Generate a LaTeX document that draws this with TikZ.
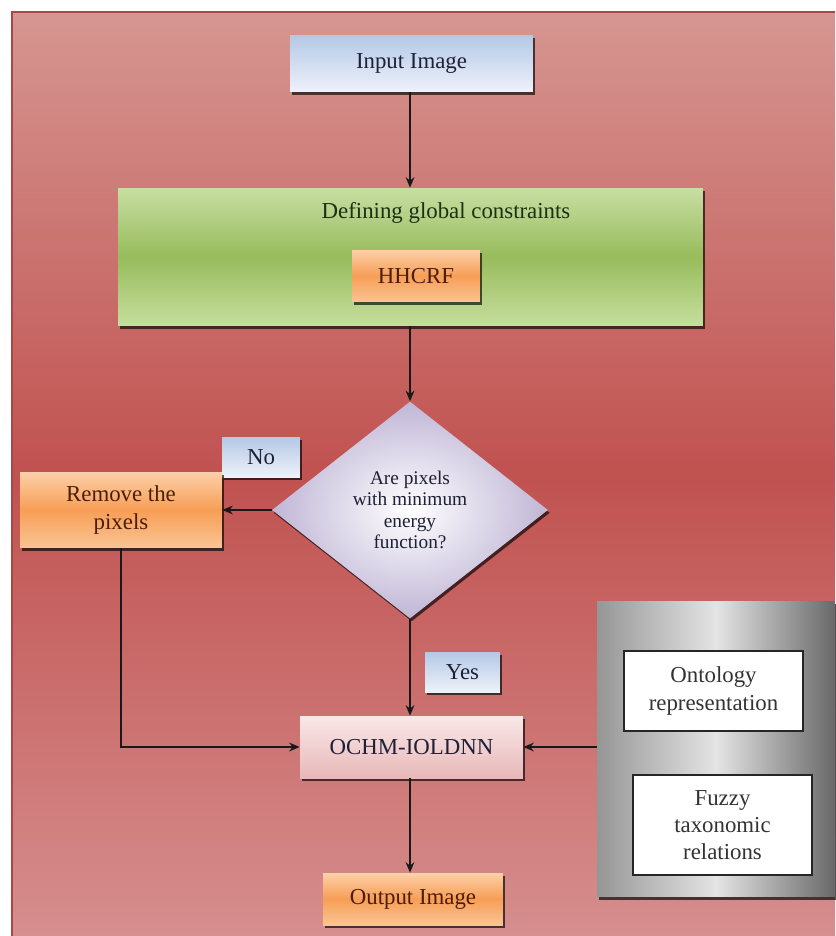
\documentclass[tikz,border=0pt]{standalone}
\usepackage{fontspec}
\setmainfont{Liberation Serif}
\usetikzlibrary{shapes.geometric,arrows.meta,shadows}
\definecolor{bgtop}{RGB}{214,150,145}
\definecolor{bgmid}{RGB}{192,82,80}
\definecolor{bgbot}{RGB}{214,142,142}
\definecolor{bgline}{RGB}{170,70,70}
\definecolor{bluetop}{RGB}{180,200,230}
\definecolor{bluebot}{RGB}{238,242,250}
\definecolor{grtop}{RGB}{200,222,162}
\definecolor{grmid}{RGB}{152,188,92}
\definecolor{grbot}{RGB}{198,222,158}
\definecolor{ortop}{RGB}{252,208,168}
\definecolor{ormid}{RGB}{247,158,86}
\definecolor{orbot}{RGB}{250,196,148}
\definecolor{lav}{RGB}{192,182,214}
\definecolor{pktop}{RGB}{250,232,232}
\definecolor{pkbot}{RGB}{232,184,184}
\definecolor{gyl}{RGB}{150,150,150}
\definecolor{gym}{RGB}{228,228,228}
\definecolor{gyr}{RGB}{105,105,105}
\definecolor{txtblue}{RGB}{30,32,55}
\definecolor{txtgreen}{RGB}{28,48,20}
\definecolor{txtbrown}{RGB}{75,30,10}
\tikzset{
  x=0.02cm, y=-0.02cm,
  mainfont/.style={font=\fontsize{13}{15.5}\selectfont},
  shad/.style={drop shadow={shadow xshift=1pt,shadow yshift=-1.6pt,fill=black,opacity=0.65}},
  basebox/.style={rectangle, inner sep=2pt, align=center, mainfont, shad},
  bluebox/.style={basebox, top color=bluetop, bottom color=bluebot, text=txtblue},
  greenbox/.style={basebox, top color=grtop, bottom color=grbot, middle color=grmid},
  orangebox/.style={basebox, top color=ortop, bottom color=orbot, middle color=ormid, text=txtbrown},
  pinkbox/.style={basebox, top color=pktop, bottom color=pkbot, text=txtblue},
  graybox/.style={rectangle, left color=gyl, right color=gyr, middle color=gym, shad},
  whitebox/.style={rectangle, fill=white, draw=black!85, line width=0.8pt, align=center, mainfont, text=black!80,
    drop shadow={shadow xshift=0.8pt,shadow yshift=-0.8pt,fill=black,opacity=0.5}},
  decision/.style={diamond, inner sep=0pt, aspect=1.27, inner color=white, outer color=lav,
    align=center, font=\fontsize{11}{12.2}\selectfont, text=txtblue, shad},
  arr/.style={draw=black!90, line width=0.8pt, -{Stealth[length=6pt,width=5pt]}},
}
\begin{document}
\begin{tikzpicture}
\useasboundingbox (0,0) rectangle (835,936);
\fill[white] (0,0) rectangle (835,936);
\shade[top color=bgtop, bottom color=bgbot, middle color=bgmid] (12,12) rectangle (835,936);
\draw[bgline, line width=0.8pt] (12,936) -- (12,12) -- (835,12);

\node[bluebox, minimum width=4.86cm, minimum height=1.14cm] (inp) at (411.5,63.5) {Input Image};

\node[greenbox, minimum width=11.7cm, minimum height=2.76cm] (grn) at (410.5,257) {};
\node[mainfont, text=txtgreen] (def) at (446,213) {Defining global constraints};
\node[orangebox, minimum width=2.56cm, minimum height=1.04cm] (hh) at (416,276) {HHCRF};

\node[decision, minimum width=5.52cm, minimum height=4.34cm] (dia) at (410,510)
  {Are pixels\\with minimum\\energy\\function?};

\node[bluebox, minimum width=1.56cm, minimum height=0.8cm] (no) at (261,457) {No};
\node[orangebox, minimum width=4.04cm, minimum height=1.52cm] (rem) at (121,510) {Remove the\\pixels};

\node[bluebox, minimum width=1.5cm, minimum height=0.8cm] (yes) at (462.5,672) {Yes};
\node[pinkbox, minimum width=4.46cm, minimum height=1.24cm] (ochm) at (411.5,747) {OCHM-IOLDNN};

\node[graybox, minimum width=4.76cm, minimum height=5.92cm] (gray) at (716,749) {};
\node[whitebox, minimum width=3.58cm, minimum height=1.6cm] (ont) at (713.5,691) {Ontology\\representation};
\node[whitebox, minimum width=3.58cm, minimum height=2.0cm] (fuz) at (722.5,825) {Fuzzy\\taxonomic\\relations};

\node[orangebox, minimum width=3.6cm, minimum height=1.04cm] (out) at (413,899) {Output Image};

\draw[arr] (inp.south -| dia.north) -- (grn.north -| dia.north);
\draw[arr] (grn.south -| dia.north) -- (dia.north);
\draw[arr] (dia.west) -- (rem.east |- dia.west);
\draw[arr] (dia.south) -- (ochm.north -| dia.south);
\draw[arr] (rem.south) |- (ochm.west);
\draw[arr] (ochm.east -| gray.west) -- (ochm.east);
\draw[arr] (ochm.south -| dia.south) -- (out.north -| dia.south);
\end{tikzpicture}
\end{document}
